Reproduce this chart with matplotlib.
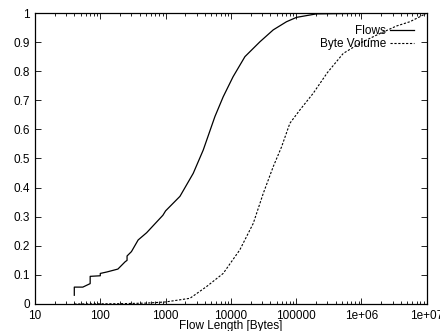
import matplotlib
matplotlib.use("Agg")
from matplotlib import pyplot as plt
from matplotlib.ticker import LogLocator, FixedLocator, NullFormatter
import numpy as np

# CDF of flow lengths
flow_x = [40, 40, 54, 70, 70, 100, 100, 126, 186, 240, 257, 257, 300, 380, 513,
          910, 1000, 1660, 2650, 3770, 5690, 7620, 10800, 16400, 27800, 44500,
          71000, 101000, 204000, 1000000, 10000000]
flow_y = [0.03, 0.058, 0.058, 0.07, 0.095, 0.097, 0.105, 0.11, 0.12, 0.145, 0.15,
          0.165, 0.18, 0.22, 0.245, 0.305, 0.32, 0.37, 0.449, 0.529, 0.644, 0.712,
          0.781, 0.85, 0.901, 0.942, 0.970, 0.985, 0.997, 0.999, 1.0]

# CDF of byte volume
byte_x = [40, 200, 500, 1000, 2360, 4250, 7620, 13700, 22000, 31300, 44500,
          59700, 80000, 114000, 182000, 300000, 525000, 944000, 1700000,
          3400000, 5500000, 7800000, 10000000]
byte_y = [0.0, 0.001, 0.003, 0.007, 0.0195, 0.06, 0.105, 0.186, 0.277, 0.38, 0.472,
          0.54, 0.621, 0.667, 0.724, 0.795, 0.861, 0.896, 0.924,
          0.955, 0.970, 0.987, 1.0]

x_ticks = [10, 100, 1000, 10000, 100000, 1e6, 1e7]
x_labels = ["10", "100", "1000", "10000", "100000", "1e+06", "1e+07"]
y_ticks = [0, 0.1, 0.2, 0.3, 0.4, 0.5, 0.6, 0.7, 0.8, 0.9, 1]
y_labels = ["0", "0.1", "0.2", "0.3", "0.4", "0.5", "0.6", "0.7", "0.8", "0.9", "1"]

plt.rcParams["font.family"] = ["Liberation Sans", "DejaVu Sans"]
plt.rcParams["font.size"] = 8.5

fig = plt.figure(figsize=(4.4, 3.31), dpi=100)
ax = fig.add_axes([0.0795, 0.0816, 0.8905, 0.8791])

ax.plot(flow_x, flow_y, color="black", lw=0.9, label="Flows")
ax.plot(byte_x, byte_y, color="black", lw=0.8, ls=(0, (2, 1.5)), label="Byte Volume")

ax.set_xscale("log")
ax.set_xlim(10, 1e7)
ax.set_ylim(0, 1)
ax.xaxis.set_major_locator(FixedLocator(x_ticks))
ax.set_xticklabels(x_labels)
ax.xaxis.set_minor_locator(LogLocator(base=10, subs=np.arange(2, 10)))
ax.xaxis.set_minor_formatter(NullFormatter())
ax.set_yticks(y_ticks)
ax.set_yticklabels(y_labels)

ax.tick_params(which="both", direction="in", top=True, right=True, width=0.6)
ax.tick_params(which="major", length=4)
ax.tick_params(which="minor", length=2)
ax.tick_params(axis="y", pad=3.5)
ax.tick_params(axis="x", pad=4)
for s in ax.spines.values():
    s.set_linewidth(0.9)

ax.set_xlabel("Flow Length [Bytes]", labelpad=-1)

leg = ax.legend(loc="upper right", frameon=False, markerfirst=False,
                handlelength=2.1, handletextpad=0.3, labelspacing=0.05,
                borderaxespad=0.65, fontsize=8.5)

fig.savefig("out.png", dpi=100)
